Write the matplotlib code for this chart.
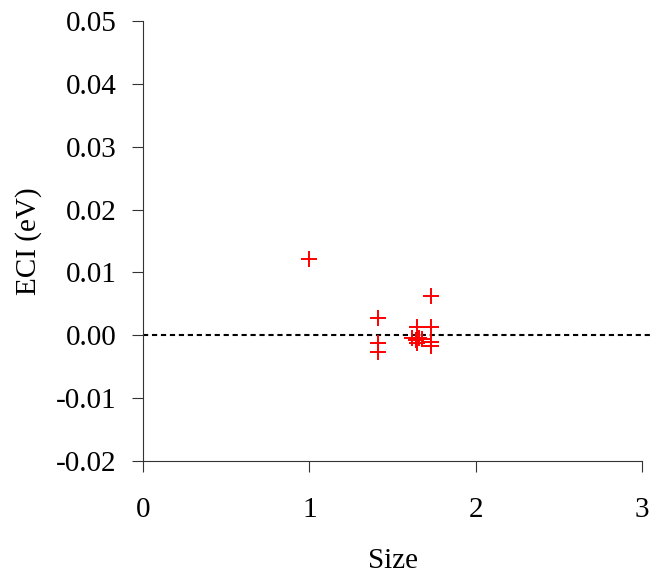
import numpy as np
import matplotlib
matplotlib.use("Agg")
import matplotlib.pyplot as plt

# cluster sizes and ECI values (eV)
size = [1.0,
        1.414, 1.414, 1.414,
        1.65, 1.62, 1.66, 1.68, 1.64, 1.65,
        1.732, 1.732, 1.732, 1.732]
eci = [0.0121,
       0.0027, -0.0013, -0.0027,
       0.0013, -0.0004, -0.0005, -0.0006, -0.0008, -0.0012,
       0.0062, 0.0013, -0.0010, -0.0017]

xticks = [0, 1, 2, 3]
yticks = [-0.02, -0.01, 0.00, 0.01, 0.02, 0.03, 0.04, 0.05]

plt.rcParams['font.family'] = ['Liberation Serif', 'DejaVu Serif']
plt.rcParams['axes.unicode_minus'] = False

fig = plt.figure(figsize=(6.52, 5.73), dpi=100)
ax = fig.add_axes([0.2193, 0.1955, 0.7654, 0.7679])

ax.axhline(0, xmin=0, xmax=1.02, color='black', lw=1.5,
           linestyle=(0, (2.5, 1.8)), clip_on=False, zorder=1)
ax.plot(size, eci, linestyle='none', marker='+', color='red',
        markersize=12, markeredgewidth=1.4, zorder=2)

ax.set_xlim(0, 3)
ax.set_ylim(-0.02, 0.05)
ax.set_xticks(xticks)
ax.set_yticks(yticks)
ax.set_yticklabels(["%.2f" % v for v in yticks])

for s in ['top', 'right']:
    ax.spines[s].set_visible(False)
for s in ['left', 'bottom']:
    ax.spines[s].set_linewidth(0.8)
    ax.spines[s].set_color('#333333')

ax.tick_params(axis='both', direction='out', length=8, width=0.8,
               color='#333333', labelsize=21)
ax.tick_params(axis='x', pad=18)
ax.tick_params(axis='y', pad=11)

ax.set_xlabel("Size", fontsize=21, labelpad=18)
ax.set_ylabel("ECI (eV)", fontsize=21, labelpad=10)

fig.savefig("out.png", dpi=100)
